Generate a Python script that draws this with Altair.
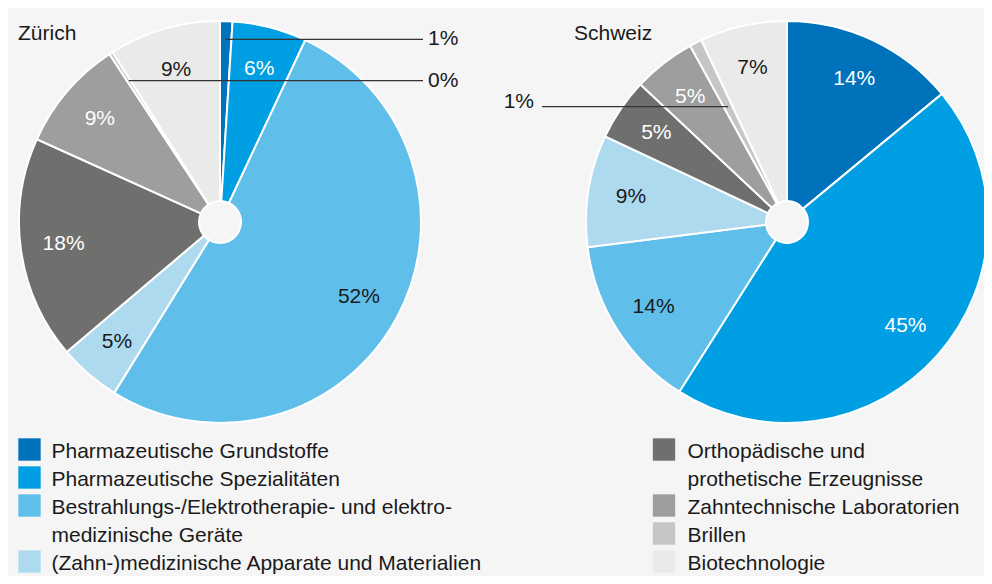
import math
import altair as alt
import pandas as pd

# ---------------- data ----------------
categories = [
    "Pharmazeutische Grundstoffe",
    "Pharmazeutische Spezialitäten",
    "Bestrahlungs-/Elektrotherapie- und elektromedizinische Geräte",
    "(Zahn-)medizinische Apparate und Materialien",
    "Orthopädische und prothetische Erzeugnisse",
    "Zahntechnische Laboratorien",
    "Brillen",
    "Biotechnologie",
]
legend_labels = [
    "Pharmazeutische Grundstoffe",
    "Pharmazeutische Spezialitäten",
    "Bestrahlungs-/Elektrotherapie- und elektro-\nmedizinische Geräte",
    "(Zahn-)medizinische Apparate und Materialien",
    "Orthopädische und\nprothetische Erzeugnisse",
    "Zahntechnische Laboratorien",
    "Brillen",
    "Biotechnologie",
]
regions = ["Zürich", "Schweiz"]
zuerich_values = [1, 6, 52, 5, 18, 9, 0.3, 9]
schweiz_values = [14, 45, 14, 9, 5, 5, 1, 7]

# ---------------- style ----------------
slice_colors = ["#0072BB", "#009FE3", "#60BFEA", "#ADDAEF",
                "#6F6F6E", "#9D9E9D", "#C6C6C6", "#EAEAEA"]
label_colors = ["#ffffff", "#ffffff", "#1a1a1a", "#1a1a1a",
                "#ffffff", "#ffffff", "#1a1a1a", "#1a1a1a"]
FONT = "Liberation Sans"
FS = 21
W, H = 976, 568
R_OUT, R_IN, R_LABEL = 201, 21, 158
centers = {"Zürich": (212, 214), "Schweiz": (779, 214)}
title_pos = {"Zürich": (10, 32), "Schweiz": (566, 32)}
# callout layout: line y, line end x, side
callout_layout = {"Zürich": [(31.3, 415, "right"), (72.7, 415, "right")],
                  "Schweiz": [(98.7, 534, "left")]}

xs = alt.Scale(domain=[0, W], range=[0, W], nice=False, zero=False)
ys = alt.Scale(domain=[0, H], range=[0, H], nice=False, zero=False)


def region_frame(values):
    rows = []
    for i, (c, v) in enumerate(zip(categories, values)):
        lab = f"{round(v)}%"
        rows.append(dict(category=c, idx=i, value=v,
                         color=slice_colors[i], tcolor=label_colors[i],
                         inside=lab if v >= 2 else ""))
    return pd.DataFrame(rows)


pies = []
callout_rows = []
for reg, vals in zip(regions, [zuerich_values, schweiz_values]):
    df = region_frame(vals)
    cx, cy = centers[reg]
    base = alt.Chart(df)
    arc = base.mark_arc(outerRadius=R_OUT, innerRadius=R_IN, stroke="white",
                        strokeWidth=2).encode(
        theta=alt.Theta("value:Q", stack=True),
        color=alt.Color("color:N", scale=None),
        order=alt.Order("idx:Q"),
        x=alt.value(cx), y=alt.value(cy),
    )
    txt = base.mark_text(radius=R_LABEL, font=FONT, fontSize=FS,
                         align="center", baseline="middle").encode(
        theta=alt.Theta("value:Q", stack=True),
        text="inside:N",
        color=alt.Color("tcolor:N", scale=None),
        detail="category:N",
        order=alt.Order("idx:Q"),
        x=alt.value(cx), y=alt.value(cy),
    )
    pies.append(alt.layer(arc, txt))

    # callouts for small slices (derived from data)
    total = sum(vals)
    cum = 0
    small = []
    for v in vals:
        if v < 2:
            small.append(((cum + v / 2) / total * 2 * math.pi, v))
        cum += v
    for (ang, v), (ly, ex, side) in zip(small, callout_layout[reg]):
        sx = cx + (cy - ly) * math.tan(ang)
        callout_rows.append(dict(x1=sx, x2=ex, y=ly, label=f"{round(v)}%",
                                 tx=ex + 5 if side == "right" else ex - 8,
                                 align="left" if side == "right" else "right"))

callouts = pd.DataFrame(callout_rows)
rules = alt.Chart(callouts).mark_rule(color="#333333", strokeWidth=1.2).encode(
    x=alt.X("x1:Q", scale=xs, axis=None),
    x2="x2:Q",
    y=alt.Y("y:Q", scale=ys, axis=None),
)
callout_left = alt.Chart(callouts[callouts["align"] == "left"]).mark_text(
    font=FONT, fontSize=FS, align="left", baseline="alphabetic", dy=6, color="#1a1a1a"
).encode(x=alt.X("tx:Q", scale=xs, axis=None), y=alt.Y("y:Q", scale=ys, axis=None),
         text="label:N")
callout_right = alt.Chart(callouts[callouts["align"] == "right"]).mark_text(
    font=FONT, fontSize=FS, align="right", baseline="alphabetic", dy=1, color="#1a1a1a"
).encode(x=alt.X("tx:Q", scale=xs, axis=None), y=alt.Y("y:Q", scale=ys, axis=None),
         text="label:N")

# titles
titles = alt.Chart(pd.DataFrame({"region": regions,
                                 "tx": [title_pos[r][0] for r in regions],
                                 "ty": [title_pos[r][1] for r in regions]})).mark_text(
    font=FONT, fontSize=FS, align="left", baseline="alphabetic", color="#1a1a1a"
).encode(x=alt.X("tx:Q", scale=xs, axis=None), y=alt.Y("ty:Q", scale=ys, axis=None),
         text="region:N")

# legend (two columns, multi-line items)
ROW0, STEP = 441.5, 28
col_x = [[21.5, 43.5], [656, 679.5]]  # swatch center x, text x
leg_rows = []
for col, items in enumerate([range(0, 4), range(4, 8)]):
    row = 0
    for i in items:
        leg_rows.append(dict(label=legend_labels[i], color=slice_colors[i],
                             sx=col_x[col][0], tx=col_x[col][1],
                             sy=ROW0 + row * STEP, ty=ROW0 + row * STEP + 8))
        row += legend_labels[i].count("\n") + 1
leg = pd.DataFrame(leg_rows)
leg_sq = alt.Chart(leg).mark_square(size=500, opacity=1).encode(
    x=alt.X("sx:Q", scale=xs, axis=None), y=alt.Y("sy:Q", scale=ys, axis=None),
    color=alt.Color("color:N", scale=None),
)
leg_txt = alt.Chart(leg).mark_text(
    font=FONT, fontSize=FS, align="left", baseline="alphabetic", lineBreak="\n",
    lineHeight=STEP, color="#1a1a1a"
).encode(x=alt.X("tx:Q", scale=xs, axis=None), y=alt.Y("ty:Q", scale=ys, axis=None),
         text="label:N")

chart = alt.layer(
    pies[0], pies[1], rules, callout_left, callout_right, titles, leg_sq, leg_txt
).resolve_scale(theta="independent").properties(
    width=W, height=H, padding=0, background="#f5f5f5",
    autosize=alt.AutoSizeParams(type="none"),
).configure_view(stroke=None)

chart.save("out.html", embed_options={"renderer": "svg", "actions": False})
